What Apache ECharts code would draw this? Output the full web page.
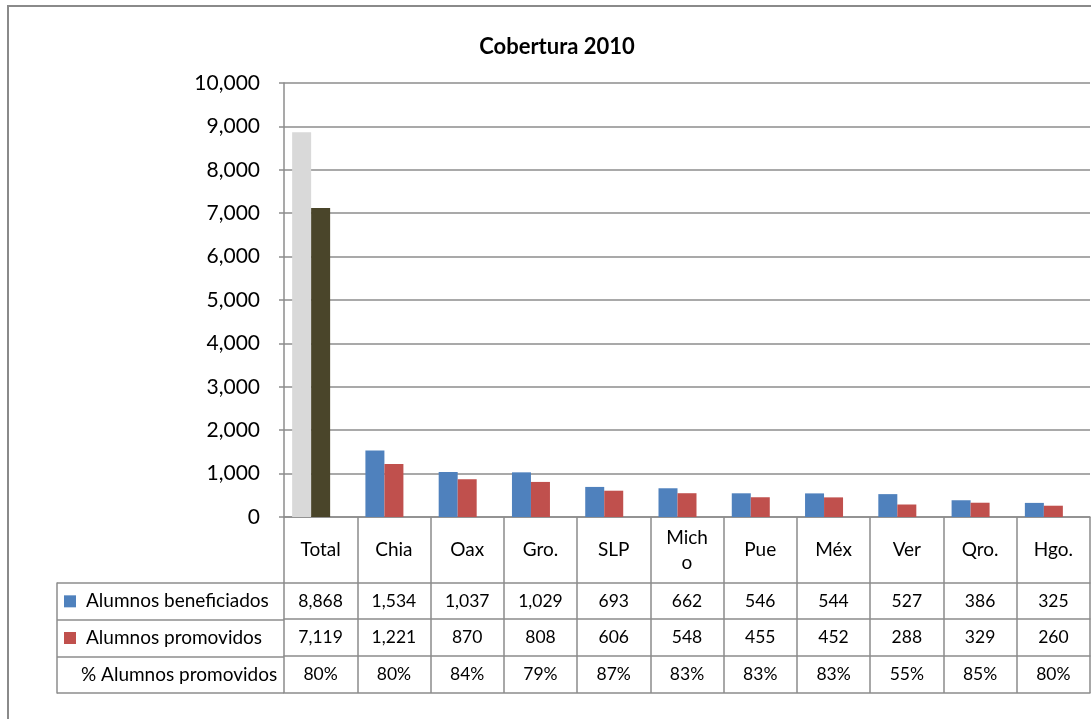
<!DOCTYPE html>
<html>
<head>
<meta charset="utf-8">
<script src="https://cdn.jsdelivr.net/npm/echarts@6/dist/echarts.min.js"></script>
<style>
html,body{margin:0;padding:0;background:#fff;}
#chart{width:1091px;height:719px;position:absolute;left:0;top:0;}
#frame{position:absolute;left:7px;top:5px;width:1100px;height:730px;border-left:2px solid #8a8a8a;border-top:2px solid #8a8a8a;pointer-events:none;box-sizing:border-box;}
</style>
</head>
<body>
<div id="chart"></div>
<div id="frame"></div>
<script>
// ---- data ----
const categories = ['Total', 'Chia', 'Oax', 'Gro.', 'SLP', 'Mich\no', 'Pue', 'Méx', 'Ver', 'Qro.', 'Hgo.'];
const beneficiados = [8868, 1534, 1037, 1029, 693, 662, 546, 544, 527, 386, 325];
const promovidos = [7119, 1221, 870, 808, 606, 548, 455, 452, 288, 329, 260];
const pctPromovidos = [80, 80, 84, 79, 87, 83, 83, 83, 55, 85, 80];
const seriesNames = ['Alumnos beneficiados', 'Alumnos promovidos', '% Alumnos promovidos'];
const yTicks = { min: 0, max: 10000, interval: 1000 };

// ---- styles ----
const FONT = "Lato, 'Liberation Sans', sans-serif";
const C_BLUE = '#4F81BD', C_RED = '#C0504D', C_GRAY = '#D9D9D9', C_DARK = '#4A452A';
const LINE = '#8c8c8c';
const fmt = v => String(v).replace(/\B(?=(\d{3})+(?!\d))/g, ',');

function rowAxis(values, offset, showLabel) {
  return {
    type: 'category', gridIndex: 0, position: 'bottom', offset: offset,
    data: values,
    axisLine: { show: true, lineStyle: { color: LINE, width: 1.5 } },
    axisTick: { show: false },
    splitLine: { show: false },
    axisLabel: { show: showLabel, interval: 0, margin: 18, verticalAlign: 'middle',
      fontFamily: FONT, fontSize: 17.5, color: '#000' }
  };
}

const option = {
  animation: false,
  backgroundColor: '#fff',
  title: {
    text: 'Cobertura 2010', left: 552, top: 31, textAlign: 'center',
    textStyle: { fontFamily: FONT, fontSize: 22, fontWeight: 'bold', color: '#000' }
  },
  grid: [
    { left: 284, right: 1, top: 83, bottom: 202 },
    { left: 57, width: 227, top: 583, height: 110 }
  ],
  xAxis: [
    {
      type: 'category', gridIndex: 0, data: categories,
      axisLine: { show: true, lineStyle: { color: LINE, width: 1.5 } },
      axisTick: { show: true, interval: 0, length: 176, lineStyle: { color: LINE, width: 1.5 } },
      axisLabel: { interval: 0, margin: 33, verticalAlign: 'middle', lineHeight: 25,
        fontFamily: FONT, fontSize: 19, color: '#000' },
      splitLine: { show: false }
    },
    rowAxis(beneficiados.map(fmt), 66, true),
    rowAxis(promovidos.map(fmt), 102, true),
    rowAxis(pctPromovidos.map(v => v + '%'), 139, true),
    rowAxis(categories, 176, false),
    { type: 'value', gridIndex: 1, show: false, min: 0, max: 1 }
  ],
  yAxis: [
    {
      type: 'value', gridIndex: 0, min: yTicks.min, max: yTicks.max, interval: yTicks.interval,
      axisLine: { show: true, lineStyle: { color: LINE, width: 1.5 } },
      axisTick: { show: true, length: 5, lineStyle: { color: LINE, width: 1.5 } },
      axisLabel: { margin: 24, fontFamily: FONT, fontSize: 21, color: '#000', formatter: v => fmt(v) },
      splitLine: { show: true, lineStyle: { color: LINE, width: 1.5 } }
    },
    {
      type: 'category', gridIndex: 1, inverse: true, position: 'left',
      data: seriesNames,
      axisLine: { show: true, lineStyle: { color: LINE, width: 1.5 } },
      axisTick: { show: false },
      splitLine: { show: true, lineStyle: { color: LINE, width: 1.5 } },
      axisLabel: {
        inside: true, margin: 7, interval: 0, fontFamily: FONT, fontSize: 19, color: '#000',
        formatter: (v, i) => i === 0 ? '{b|}{t|' + v + '}' : i === 1 ? '{r|}{t|' + v + '}' : '{p|' + v + '}',
        rich: {
          b: { width: 12, height: 12, backgroundColor: C_BLUE },
          r: { width: 12, height: 12, backgroundColor: C_RED },
          t: { fontFamily: FONT, fontSize: 19, color: '#000', padding: [0, 0, 0, 10] },
          p: { fontFamily: FONT, fontSize: 19, color: '#000', padding: [0, 0, 0, 17] }
        }
      }
    }
  ],
  series: [
    {
      name: seriesNames[0], type: 'bar', xAxisIndex: 0, yAxisIndex: 0,
      barWidth: 19, barGap: '0%',
      data: beneficiados.map((v, i) => ({ value: v, itemStyle: { color: i === 0 ? C_GRAY : C_BLUE } }))
    },
    {
      name: seriesNames[1], type: 'bar', xAxisIndex: 0, yAxisIndex: 0,
      barWidth: 19, barGap: '0%',
      data: promovidos.map((v, i) => ({ value: v, itemStyle: { color: i === 0 ? C_DARK : C_RED } }))
    },
    {
      name: seriesNames[2], type: 'bar', xAxisIndex: 0, yAxisIndex: 0,
      barWidth: 19, barGap: '0%',
      itemStyle: { color: 'rgba(0,0,0,0)' },
      data: pctPromovidos.map(v => v / 100)
    }
  ]
};

const chart = echarts.init(document.getElementById('chart'), null, { renderer: 'canvas' });
chart.setOption(option);
</script>
</body>
</html>
